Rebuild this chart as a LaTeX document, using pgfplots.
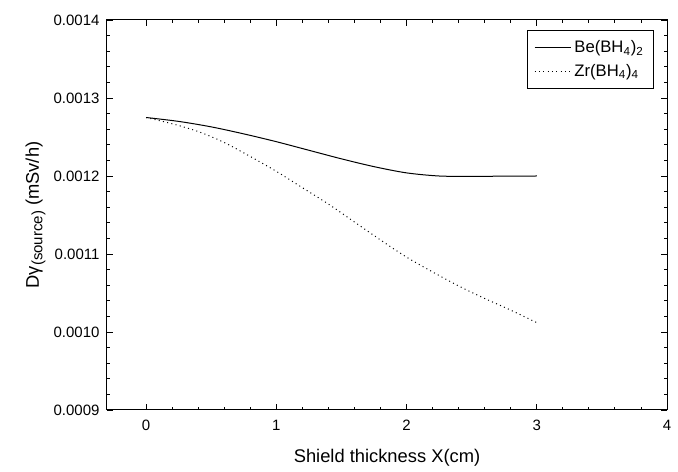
\documentclass[border=0pt]{standalone}
\usepackage{pgfplots}
\pgfplotsset{compat=1.18}
\usepackage{fontspec}
\setmainfont{Liberation Sans}
\begin{document}
\begin{tikzpicture}[font=\fontsize{9}{11}\selectfont]
\begin{axis}[
  scale only axis,
  width=336pt, height=234pt,
  xmin=-0.3, xmax=4, ymin=0.0009, ymax=0.0014,
  xtick={0,1,2,3,4},
  ytick={0.0009,0.0010,0.0011,0.0012,0.0013,0.0014},
  minor x tick num=4, minor y tick num=4,
  tick align=inside, tick pos=both,
  major tick length=3.6pt, minor tick length=2pt,
  tick style={black, line width=0.5pt},
  axis line style={line width=0.6pt},
  scaled y ticks=false,
  yticklabel style={/pgf/number format/fixed, /pgf/number format/precision=4, /pgf/number format/fixed zerofill, xshift=-1pt},
  xticklabel style={yshift=-2.5pt},
  /pgf/number format/assume math mode=true,
  xlabel={Shield thickness X(cm)},
  ylabel={Dγ\raisebox{-0.35ex}{\fontsize{9}{9}\selectfont(source)} (mSv/h)},
  label style={font=\fontsize{11}{13}\selectfont},
  xlabel style={yshift=-4pt},
  ylabel style={yshift=-2pt},
  legend style={at={(rel axis cs:0.977,0.974)}, anchor=north east, draw=black, line width=0.5pt, inner xsep=4pt, inner ysep=4pt, row sep=1.5pt, font=\fontsize{10}{12}\selectfont,
    nodes={inner xsep=2pt}},
  legend cell align=left,
  legend image post style={line width=0.6pt},
  legend image code/.code={\draw[#1] (0cm,0cm) -- (0.76cm,0cm);},
]
\addplot[black, line width=0.6pt, smooth] coordinates {
(0,0.001275) (0.25,0.001270) (0.5,0.001263) (0.75,0.001254) (1.0,0.001244)
(1.25,0.001233) (1.5,0.001222) (1.75,0.001212) (2.0,0.001204) (2.25,0.0012)
(2.5,0.0011995) (2.75,0.0011998) (3.0,0.0012)};
\addlegendentry{Be(BH\textsubscript{4})\textsubscript{2}}
\addplot[black, line width=0.6pt, dotted, smooth] coordinates {
(0,0.001275) (0.2,0.001267) (0.4,0.001257) (0.6,0.001243) (0.8,0.001225)
(1.0,0.001206) (1.2,0.001185) (1.4,0.001164) (1.6,0.001141) (1.8,0.001118)
(2.0,0.001096) (2.2,0.001077) (2.4,0.001059) (2.6,0.001043) (2.8,0.001028)
(3.0,0.001012)};
\addlegendentry{Zr(BH\textsubscript{4})\textsubscript{4}}
\end{axis}
\path (current axis.south west) ++(-64.2pt,-34.8pt) coordinate (bbsw);
\path (current axis.north east) ++(6.6pt,12pt) coordinate (bbne);
\path (bbsw) rectangle (bbne);
\end{tikzpicture}
\end{document}
